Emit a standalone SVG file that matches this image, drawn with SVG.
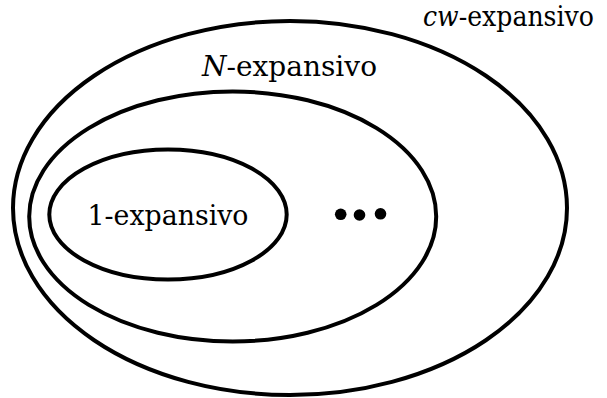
<svg xmlns="http://www.w3.org/2000/svg" width="607" height="398" viewBox="0 0 607 398">
<style>
.set{fill:none;stroke:#000;stroke-width:4}
.lbl{font-family:"DejaVu Serif","Liberation Serif",serif;font-size:27px;fill:#000}
.it{font-style:italic}
.dot{fill:#000}
</style>
<rect width="607" height="398" fill="#fff"/>
<g id="cw-expansivo">
<ellipse class="set" cx="290" cy="208" rx="277" ry="187"/>
<text class="lbl" x="423" y="26" textLength="171" lengthAdjust="spacingAndGlyphs"><tspan class="it">cw</tspan>-expansivo</text>
</g>
<g id="N-expansivo">
<ellipse class="set" cx="232.7" cy="216.5" rx="203.5" ry="125"/>
<text class="lbl" x="202" y="76" textLength="175" lengthAdjust="spacingAndGlyphs"><tspan class="it">N</tspan>-expansivo</text>
</g>
<g id="1-expansivo">
<ellipse class="set" cx="168" cy="214.5" rx="118.7" ry="65"/>
<text class="lbl" x="87.5" y="225" textLength="161" lengthAdjust="spacingAndGlyphs">1-expansivo</text>
</g>
<g id="ellipsis">
<circle class="dot" cx="340.7" cy="214.3" r="5.8"/>
<circle class="dot" cx="359.5" cy="215" r="5.8"/>
<circle class="dot" cx="380.5" cy="213.8" r="5.8"/>
</g>
<g id="connectors"/>
</svg>
